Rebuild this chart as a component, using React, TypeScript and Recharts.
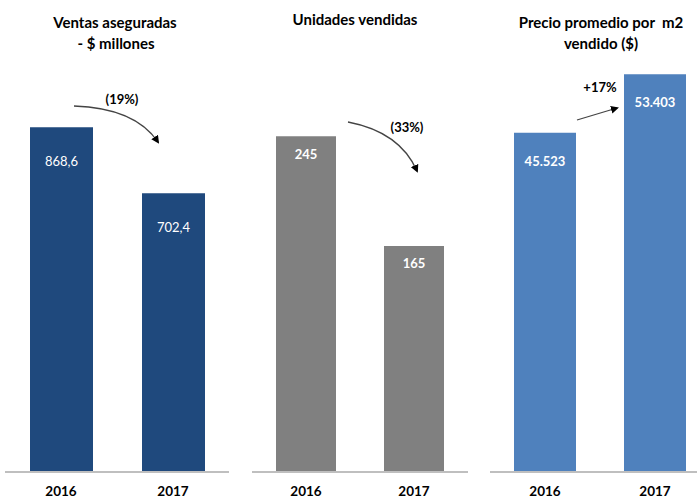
import React from 'react';
import { BarChart, Bar, XAxis, YAxis, LabelList } from 'recharts';

const years = ['2016', '2017'];
const ventas = [868.6, 702.4];
const ventasLabels = ['868,6', '702,4'];
const unidades = [245, 165];
const unidadesLabels = ['245', '165'];
const precio = [45523, 53403];
const precioLabels = ['45.523', '53.403'];
const changes = ['(19%)', '(33%)', '+17%'];

const FONT = 'Lato, "Open Sans", sans-serif';

const build = (vals: number[], labels: string[]) =>
  years.map((y, i) => ({ year: y, value: vals[i], label: labels[i] }));

type PanelProps = {
  data: { year: string; value: number; label: string }[];
  left: number;
  width: number;
  marginLeft: number;
  marginRight: number;
  marginTop: number;
  max: number;
  color: string;
  barSize: number;
  labelOffset: number;
  labelWeight: number | string;
};

function Panel(p: PanelProps) {
  return (
    <div style={{ position: 'absolute', left: p.left, top: 0 }}>
      <BarChart
        width={p.width}
        height={498}
        data={p.data}
        margin={{ top: p.marginTop, right: p.marginRight, bottom: 0, left: p.marginLeft }}
      >
        <XAxis
          dataKey="year"
          height={26}
          axisLine={{ stroke: '#BFBFBF', strokeWidth: 2 }}
          tickLine={false}
          tickMargin={8}
          tick={{ fill: '#000', fontSize: 13.5, fontWeight: 'bold', fontFamily: FONT }}
          interval={0}
        />
        <YAxis hide domain={[0, p.max]} />
        <Bar dataKey="value" fill={p.color} barSize={p.barSize} isAnimationActive={false}>
          <LabelList
            dataKey="label"
            position="insideTop"
            offset={p.labelOffset}
            fill="#fff"
            fontSize={13}
            fontWeight={p.labelWeight as any}
            fontFamily={FONT}
          />
        </Bar>
      </BarChart>
    </div>
  );
}

export default function App() {
  const titleStyle = { fontFamily: FONT, fontSize: 15, fontWeight: 'bold' as const, fill: '#000' };
  const noteStyle = { fontFamily: FONT, fontSize: 13, fontWeight: 'bold' as const, fill: '#000' };
  return (
    <div
      style={{
        position: 'absolute',
        left: 0,
        top: 0,
        width: 697,
        height: 498,
        overflow: 'hidden',
        background: '#fff',
      }}
    >
      <Panel
        data={build(ventas, ventasLabels)}
        left={0}
        width={240}
        marginLeft={5}
        marginRight={11}
        marginTop={75}
        max={1000}
        color="#1F497D"
        barSize={63}
        labelOffset={30}
        labelWeight="normal"
      />
      <Panel
        data={build(unidades, unidadesLabels)}
        left={240}
        width={240}
        marginLeft={12}
        marginRight={12}
        marginTop={61}
        max={300}
        color="#808080"
        barSize={60}
        labelOffset={13}
        labelWeight="bold"
      />
      <Panel
        data={build(precio, precioLabels)}
        left={480}
        width={240}
        marginLeft={10}
        marginRight={10}
        marginTop={25}
        max={60000}
        color="#4F81BD"
        barSize={62}
        labelOffset={24}
        labelWeight="bold"
      />
      <svg
        width={697}
        height={498}
        style={{ position: 'absolute', left: 0, top: 0, pointerEvents: 'none' }}
      >
        <defs>
          <marker id="ah" markerWidth="8" markerHeight="8" refX="6" refY="4" orient="auto" markerUnits="userSpaceOnUse">
            <path d="M0,0 L8,4 L0,8 z" fill="#000" />
          </marker>
        </defs>
        <text x={115} y={28} textAnchor="middle" style={titleStyle}>Ventas aseguradas</text>
        <text x={116} y={49} textAnchor="middle" style={titleStyle}>- $ millones</text>
        <text x={355} y={25} textAnchor="middle" style={titleStyle}>Unidades vendidas</text>
        <text x={601} y={28} textAnchor="middle" style={titleStyle} xmlSpace="preserve">Precio promedio por  m2</text>
        <text x={601} y={49} textAnchor="middle" style={titleStyle}>vendido ($)</text>

        <path d="M74,106 Q135,108 158,142" fill="none" stroke="#444" strokeWidth={1.3} markerEnd="url(#ah)" />
        <text x={122} y={104} textAnchor="middle" style={noteStyle}>{changes[0]}</text>

        <path d="M348,122 Q400,132 417,171" fill="none" stroke="#444" strokeWidth={1.3} markerEnd="url(#ah)" />
        <text x={407} y={132} textAnchor="middle" style={noteStyle}>{changes[1]}</text>

        <path d="M577,120 L617,108" fill="none" stroke="#444" strokeWidth={1.3} markerEnd="url(#ah)" />
        <text x={600} y={92} textAnchor="middle" style={noteStyle}>{changes[2]}</text>
      </svg>
    </div>
  );
}
